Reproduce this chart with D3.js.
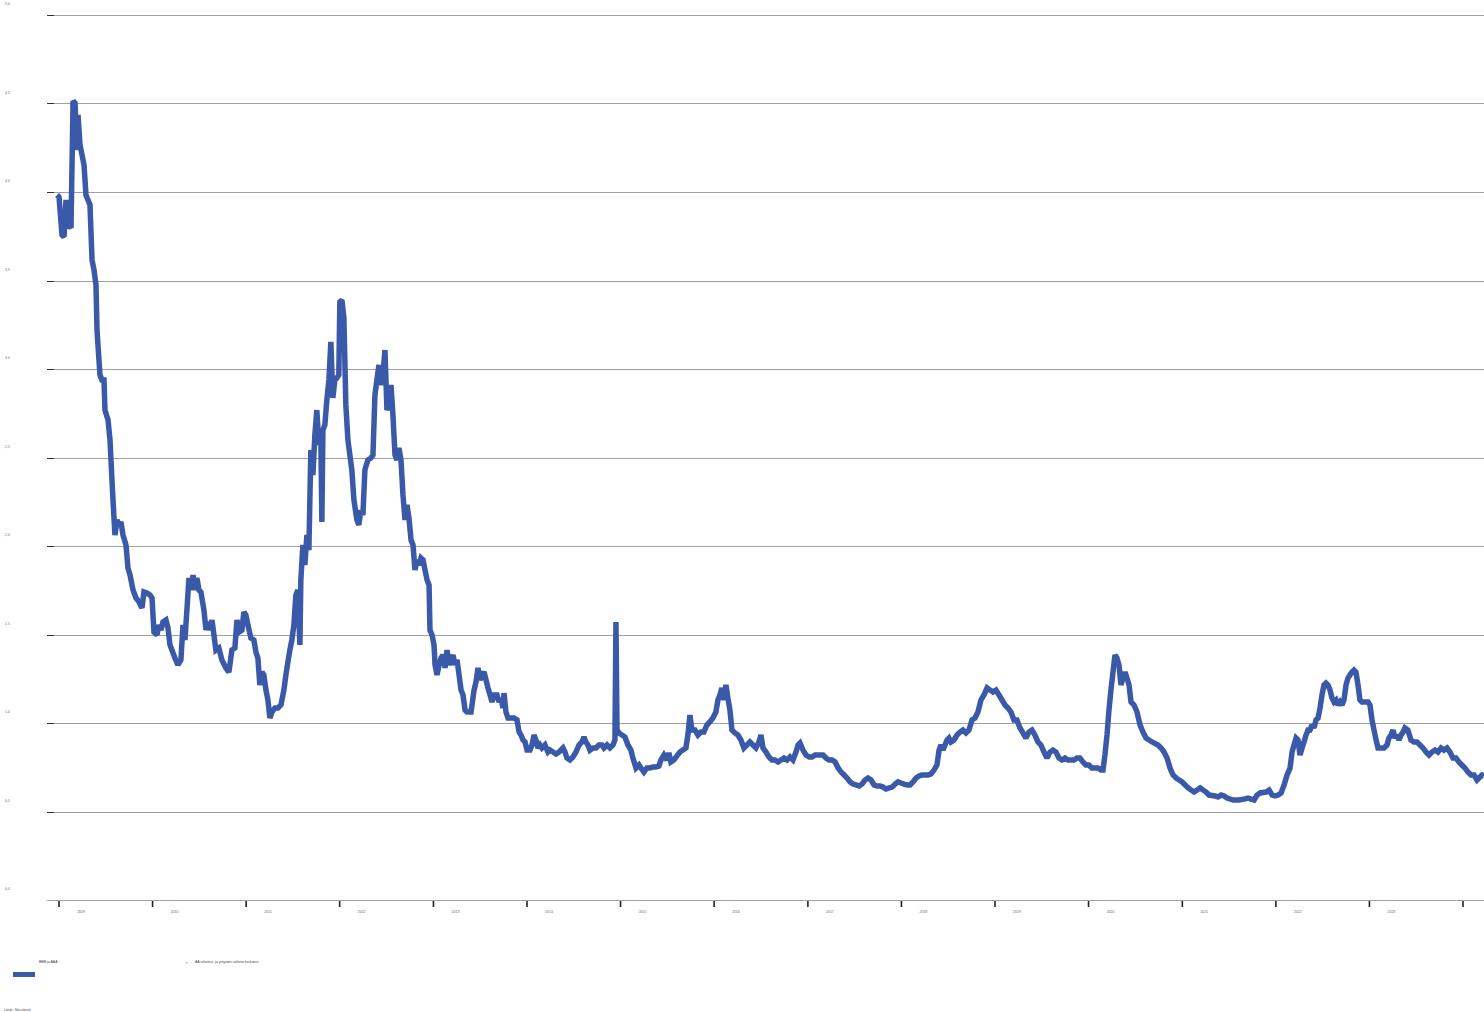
<!DOCTYPE html>
<html>
<head>
<meta charset="utf-8">
<script src="https://cdn.jsdelivr.net/npm/d3@7"></script>
<style>
html,body{margin:0;padding:0;background:#fff;overflow:hidden}
svg{display:block;font-family:"Liberation Sans",Arial,sans-serif}
</style>
</head>
<body>
<svg id="chart" width="1484" height="1012"></svg>
<script>
// ---- data (decimal years, spread in %-points) ----
const dates = [2008.979,2009.000,2009.032,2009.053,2009.075,2009.096,2009.128,2009.150,2009.171,2009.192,2009.203,2009.224,2009.246,2009.267,2009.288,2009.310,2009.331,2009.353,2009.374,2009.395,2009.406,2009.427,2009.438,2009.459,2009.481,2009.491,2009.524,2009.545,2009.566,2009.577,2009.598,2009.620,2009.641,2009.662,2009.684,2009.716,2009.737,2009.759,2009.791,2009.823,2009.855,2009.887,2009.908,2009.940,2009.972,2009.994,
2010.015,2010.047,2010.068,2010.090,2010.111,2010.143,2010.165,2010.186,2010.207,2010.239,2010.271,2010.303,2010.325,2010.346,2010.367,2010.389,2010.410,2010.432,2010.453,2010.474,2010.496,2010.517,2010.549,2010.571,2010.592,2010.613,2010.635,2010.656,2010.677,2010.709,2010.741,2010.784,2010.816,2010.848,2010.880,2010.902,2010.923,2010.955,2010.976,
2010.998,2011.019,2011.051,2011.083,2011.105,2011.126,2011.147,2011.169,2011.190,2011.212,2011.233,2011.254,2011.276,2011.308,2011.340,2011.372,2011.404,2011.425,2011.447,2011.468,2011.489,2011.511,2011.532,2011.553,2011.575,2011.585,2011.607,2011.628,2011.650,2011.671,2011.692,2011.714,2011.735,2011.756,2011.778,2011.799,2011.810,2011.821,2011.842,2011.863,2011.885,2011.906,2011.927,2011.949,2011.970,2011.991,
2012.002,2012.024,2012.045,2012.066,2012.088,2012.109,2012.130,2012.152,2012.184,2012.205,2012.226,2012.248,2012.269,2012.301,2012.333,2012.355,2012.376,2012.397,2012.419,2012.440,2012.462,2012.483,2012.504,2012.526,2012.547,2012.568,2012.590,2012.611,2012.632,2012.654,2012.675,2012.697,2012.718,2012.739,2012.761,2012.782,2012.803,2012.825,2012.846,2012.867,2012.889,2012.910,2012.932,2012.953,2012.963,2012.985,
2013.006,2013.017,2013.038,2013.060,2013.081,2013.103,2013.124,2013.145,2013.167,2013.188,2013.209,2013.231,2013.252,2013.274,2013.295,2013.316,2013.338,2013.359,2013.402,2013.434,2013.455,2013.476,2013.498,2013.519,2013.541,2013.562,2013.583,2013.605,2013.626,2013.647,2013.679,2013.701,2013.722,2013.743,2013.754,2013.775,2013.797,2013.861,2013.893,2013.915,2013.936,2013.957,2013.979,
2014.000,2014.032,2014.053,2014.075,2014.096,2014.118,2014.139,2014.160,2014.192,2014.224,2014.246,2014.278,2014.310,2014.342,2014.385,2014.406,2014.427,2014.459,2014.491,2014.524,2014.556,2014.588,2014.609,2014.630,2014.652,2014.673,2014.705,2014.737,2014.769,2014.801,2014.823,2014.855,2014.887,2014.919,2014.940,2014.951,2014.962,2014.983,
2015.015,2015.047,2015.079,2015.111,2015.132,2015.165,2015.197,2015.218,2015.250,2015.282,2015.314,2015.346,2015.378,2015.410,2015.432,2015.464,2015.496,2015.517,2015.538,2015.570,2015.603,2015.635,2015.667,2015.699,2015.720,2015.742,2015.763,2015.795,2015.827,2015.859,2015.891,2015.923,2015.955,2015.987,
2016.019,2016.041,2016.062,2016.083,2016.105,2016.126,2016.147,2016.169,2016.190,2016.222,2016.254,2016.286,2016.318,2016.350,2016.382,2016.414,2016.446,2016.478,2016.500,2016.521,2016.553,2016.585,2016.617,2016.649,2016.681,2016.713,2016.745,2016.777,2016.809,2016.841,2016.873,2016.895,2016.916,2016.948,2016.980,
2017.013,2017.045,2017.077,2017.130,2017.162,2017.194,2017.226,2017.259,2017.291,2017.323,2017.355,2017.387,2017.419,2017.451,2017.483,2017.515,2017.547,2017.579,2017.611,2017.643,2017.675,2017.707,2017.739,2017.771,2017.803,2017.835,2017.868,2017.900,2017.932,2017.964,2017.996,
2018.028,2018.060,2018.092,2018.124,2018.156,2018.188,2018.220,2018.284,2018.316,2018.348,2018.380,2018.402,2018.423,2018.444,2018.466,2018.487,2018.508,2018.530,2018.562,2018.594,2018.626,2018.658,2018.690,2018.722,2018.754,2018.786,2018.818,2018.850,2018.882,2018.915,2018.947,2018.979,
2019.011,2019.043,2019.075,2019.107,2019.139,2019.171,2019.203,2019.235,2019.267,2019.299,2019.331,2019.363,2019.395,2019.427,2019.459,2019.491,2019.524,2019.556,2019.588,2019.620,2019.652,2019.684,2019.716,2019.748,2019.780,2019.844,2019.876,2019.908,2019.940,2019.972,
2020.004,2020.036,2020.100,2020.132,2020.154,2020.175,2020.197,2020.218,2020.239,2020.261,2020.282,2020.303,2020.325,2020.346,2020.367,2020.389,2020.410,2020.432,2020.453,2020.485,2020.517,2020.549,2020.581,2020.613,2020.645,2020.677,2020.741,2020.773,2020.805,2020.837,2020.869,2020.901,2020.934,2020.966,2020.998,
2021.030,2021.062,2021.094,2021.126,2021.158,2021.190,2021.222,2021.254,2021.286,2021.350,2021.382,2021.415,2021.447,2021.479,2021.543,2021.607,2021.671,2021.703,2021.767,2021.799,2021.831,2021.895,2021.927,2021.959,2021.991,
2022.024,2022.056,2022.088,2022.120,2022.152,2022.173,2022.194,2022.216,2022.237,2022.258,2022.280,2022.301,2022.322,2022.344,2022.365,2022.386,2022.408,2022.429,2022.451,2022.472,2022.493,2022.515,2022.536,2022.557,2022.579,2022.600,2022.621,2022.643,2022.664,2022.686,2022.707,2022.728,2022.750,2022.771,2022.792,2022.814,2022.835,2022.856,2022.878,2022.899,2022.920,2022.985,
2023.006,2023.028,2023.049,2023.071,2023.092,2023.156,2023.188,2023.209,2023.231,2023.252,2023.274,2023.295,2023.316,2023.338,2023.359,2023.380,2023.412,2023.444,2023.476,2023.508,2023.541,2023.573,2023.605,2023.637,2023.669,2023.701,2023.733,2023.765,2023.797,2023.829,2023.861,2023.893,2023.925,2023.957,2023.989,
2024.021,2024.053,2024.085,2024.118,2024.150,2024.171,2024.203,2024.224];

const values = [3.983,3.972,3.757,3.746,3.955,3.814,3.797,4.514,4.503,4.237,4.435,4.266,4.209,4.153,3.983,3.955,3.927,3.616,3.559,3.475,3.220,3.051,2.966,2.938,2.938,2.768,2.712,2.599,2.373,2.260,2.062,2.147,2.119,2.136,2.062,2.006,1.876,1.836,1.751,1.706,1.684,1.650,1.740,1.734,1.723,1.706,
1.514,1.497,1.554,1.525,1.571,1.582,1.537,1.441,1.412,1.367,1.328,1.356,1.554,1.469,1.638,1.819,1.751,1.836,1.751,1.819,1.751,1.740,1.638,1.525,1.571,1.525,1.582,1.497,1.412,1.424,1.356,1.311,1.288,1.412,1.424,1.582,1.514,1.525,1.627,
1.610,1.554,1.480,1.469,1.401,1.367,1.215,1.288,1.271,1.186,1.130,1.028,1.062,1.085,1.085,1.102,1.186,1.271,1.345,1.412,1.469,1.554,1.723,1.751,1.441,1.808,2.006,1.893,2.062,1.977,2.542,2.401,2.627,2.768,2.571,2.599,2.136,2.655,2.684,2.825,2.938,3.153,2.836,2.938,2.949,2.966,
3.379,3.390,3.288,2.797,2.599,2.514,2.429,2.260,2.147,2.119,2.203,2.175,2.429,2.486,2.497,2.514,2.853,2.938,3.023,2.910,2.966,3.107,2.768,2.797,2.910,2.740,2.514,2.486,2.554,2.486,2.288,2.147,2.232,2.158,2.034,2.006,1.864,1.921,1.893,1.932,1.921,1.864,1.808,1.780,1.525,1.497,
1.441,1.328,1.271,1.328,1.367,1.384,1.311,1.412,1.328,1.356,1.384,1.328,1.356,1.271,1.186,1.158,1.073,1.062,1.062,1.186,1.232,1.311,1.243,1.271,1.288,1.243,1.198,1.158,1.119,1.158,1.158,1.119,1.141,1.085,1.169,1.062,1.028,1.028,1.017,0.949,0.932,0.904,0.893,
0.847,0.847,0.876,0.932,0.904,0.859,0.876,0.859,0.876,0.836,0.847,0.836,0.825,0.836,0.859,0.836,0.802,0.791,0.808,0.836,0.876,0.893,0.921,0.893,0.876,0.847,0.859,0.859,0.876,0.876,0.859,0.876,0.859,0.876,0.904,1.571,0.960,0.944,
0.932,0.921,0.876,0.847,0.802,0.746,0.763,0.746,0.723,0.746,0.746,0.751,0.751,0.757,0.791,0.819,0.791,0.831,0.780,0.791,0.814,0.836,0.847,0.859,0.932,1.045,0.960,0.960,0.932,0.949,0.949,0.989,1.006,1.028,
1.062,1.130,1.158,1.198,1.130,1.215,1.141,1.073,0.960,0.944,0.932,0.904,0.859,0.876,0.893,0.876,0.859,0.893,0.932,0.859,0.836,0.808,0.791,0.791,0.780,0.791,0.802,0.791,0.808,0.791,0.836,0.876,0.887,0.847,0.819,
0.808,0.808,0.819,0.819,0.819,0.802,0.791,0.791,0.780,0.746,0.723,0.706,0.689,0.667,0.655,0.650,0.644,0.655,0.678,0.689,0.678,0.650,0.644,0.644,0.638,0.627,0.633,0.638,0.655,0.667,0.661,
0.655,0.650,0.650,0.667,0.689,0.701,0.706,0.706,0.712,0.734,0.763,0.847,0.876,0.847,0.876,0.904,0.915,0.893,0.904,0.932,0.949,0.960,0.944,0.960,1.017,1.028,1.062,1.130,1.158,1.198,1.186,1.175,
1.186,1.158,1.130,1.102,1.085,1.062,1.017,1.017,0.972,0.944,0.915,0.949,0.960,0.932,0.893,0.876,0.836,0.802,0.836,0.847,0.836,0.802,0.791,0.802,0.791,0.791,0.802,0.802,0.780,0.763,
0.763,0.746,0.746,0.734,0.734,0.819,0.932,1.073,1.186,1.288,1.384,1.367,1.328,1.215,1.254,1.288,1.254,1.215,1.119,1.102,1.062,0.989,0.949,0.915,0.904,0.893,0.876,0.859,0.836,0.802,0.746,0.706,0.689,0.678,0.667,
0.650,0.633,0.621,0.610,0.621,0.633,0.621,0.610,0.593,0.588,0.582,0.593,0.588,0.576,0.565,0.565,0.571,0.576,0.565,0.593,0.605,0.610,0.621,0.593,0.588,
0.593,0.605,0.650,0.706,0.746,0.836,0.876,0.915,0.904,0.819,0.859,0.893,0.932,0.960,0.960,0.989,0.972,1.017,1.028,1.085,1.158,1.215,1.226,1.215,1.186,1.141,1.119,1.130,1.102,1.119,1.102,1.130,1.215,1.254,1.271,1.288,1.299,1.288,1.215,1.130,1.119,1.119,
1.102,1.017,0.960,0.904,0.859,0.859,0.876,0.915,0.932,0.960,0.915,0.932,0.904,0.932,0.949,0.972,0.960,0.904,0.893,0.893,0.876,0.859,0.836,0.819,0.836,0.847,0.836,0.859,0.847,0.859,0.836,0.802,0.802,0.780,0.763,
0.746,0.723,0.706,0.706,0.678,0.689,0.706,0.701];

const yTicks = [0,0.5,1,1.5,2,2.5,3,3.5,4,4.5,5];
const yTickLabels = ["0,0","0,5","1,0","1,5","2,0","2,5","3,0","3,5","4,0","4,5","5,0"];
const years = [2009,2010,2011,2012,2013,2014,2015,2016,2017,2018,2019,2020,2021,2022,2023,2024];
const yearLabels = ["2009","2010","2011","2012","2013","2014","2015","2016","2017","2018","2019","2020","2021","2022","2023"];
const seriesNames = ["BBB ja AAA","AA rahoitus- ja yritysten välinen korkoero"];
const sourceText = "Lähde: Macrobond";

(function(){
function decToDate(d){
  const yr = Math.floor(d);
  const s = Date.UTC(yr,0,1), e = Date.UTC(yr+1,0,1);
  return new Date(s + (d - yr) * (e - s));
}

const svg = d3.select("#chart");
const mLeft = 47, mRight = 1484, mTop = 15, mBottom = 900;

const x = d3.scaleUtc()
  .domain([decToDate(2008.8718), decToDate(2024.2243)])
  .range([mLeft, mRight]);
const y = d3.scaleLinear().domain([0,5]).range([mBottom, mTop]);

// gridlines
svg.append("g").selectAll("line").data(yTicks.filter(v => v > 0)).join("line")
  .attr("x1", mLeft).attr("x2", mRight)
  .attr("y1", d => Math.round(y(d)) + 0.5).attr("y2", d => Math.round(y(d)) + 0.5)
  .attr("stroke", "#a0a0a4").attr("stroke-width", 1);

// y tick stubs + labels
const gy = svg.append("g");
gy.selectAll("line").data(yTicks).join("line")
  .attr("x1", mLeft).attr("x2", mLeft + 7)
  .attr("y1", d => Math.round(y(d)) + 0.5).attr("y2", d => Math.round(y(d)) + 0.5)
  .attr("stroke", "#333").attr("stroke-width", 1);
gy.selectAll("text").data(yTicks).join("text")
  .attr("x", 5).attr("y", d => y(d) - 10)
  .attr("font-size", 3.5).attr("fill", "#666")
  .text((d,i) => yTickLabels[i]);

// x axis
svg.append("line")
  .attr("x1", mLeft).attr("x2", mRight).attr("y1", mBottom + 0.5).attr("y2", mBottom + 0.5)
  .attr("stroke", "#a39fb5").attr("stroke-width", 1);
const gx = svg.append("g");
const yearDates = years.map(v => new Date(Date.UTC(v,0,1)));
gx.selectAll("line").data(yearDates).join("line")
  .attr("x1", d => x(d)).attr("x2", d => x(d))
  .attr("y1", mBottom + 1).attr("y2", mBottom + 7)
  .attr("stroke", "#222").attr("stroke-width", 1.6);
gx.selectAll("text").data(yearDates.slice(0, yearLabels.length)).join("text")
  .attr("x", d => x(d) + 22).attr("y", mBottom + 13)
  .attr("text-anchor", "middle")
  .attr("font-size", 3.5).attr("fill", "#666")
  .text((d,i) => yearLabels[i]);

// series line
const n = Math.min(dates.length, values.length);
const pts = d3.range(n).map(i => [decToDate(dates[i]), values[i]]);
const line = d3.line().x(d => x(d[0])).y(d => y(d[1]));
svg.append("path").datum(pts)
  .attr("d", line)
  .attr("fill", "none")
  .attr("stroke", "#3a5aa9")
  .attr("stroke-width", 5.5)
  .attr("stroke-linejoin", "miter")
  .attr("stroke-miterlimit", 2);

// legend
const lg = svg.append("g");
lg.append("rect").attr("x", 13).attr("y", 972).attr("width", 22).attr("height", 5).attr("fill", "#3a5aa9");
lg.append("text").attr("x", 39).attr("y", 963).attr("font-size", 3.5).attr("fill", "#444").text(seriesNames[0]);
lg.append("rect").attr("x", 186).attr("y", 962.5).attr("width", 1.5).attr("height", 0.8).attr("fill", "#555");
lg.append("text").attr("x", 195).attr("y", 963).attr("font-size", 3.5).attr("fill", "#444").text(seriesNames[1]);

// source
svg.append("text").attr("x", 4).attr("y", 1011).attr("font-size", 3.2).attr("fill", "#555").text(sourceText);
})();
</script>
</body>
</html>
